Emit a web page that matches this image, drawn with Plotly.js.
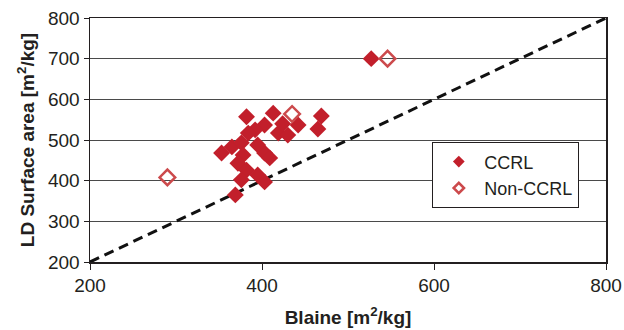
<!DOCTYPE html>
<html>
<head>
<meta charset="utf-8">
<script src="https://cdn.plot.ly/plotly-3.0.1.min.js"></script>
<style>html,body{margin:0;padding:0;background:#fff;}#chart{width:624px;height:330px;}</style>
</head>
<body>
<div id="chart"></div>
<script>
// CCRL samples
var ccrlBlaine = [382, 413, 442, 403, 392, 384, 419, 430, 365, 376, 353, 403, 409, 378, 372, 382, 376, 395, 403, 369, 395, 424, 469, 465, 527];
var ccrlLD     = [557, 566, 537, 537, 525, 517, 517, 512, 483, 493, 468, 468, 456, 463, 443, 426, 402, 414, 397, 365, 488, 540, 559, 527, 700];
// Non-CCRL samples
var nonBlaine = [290, 435, 546];
var nonLD     = [408, 564, 700];
// Line of equality
var eqX = [200, 800];
var eqY = [200, 800];
var tickVals = [200, 300, 400, 500, 600, 700, 800];
var xTickVals = [200, 400, 600, 800];

var filledColor = '#c21f2b';
var openColor = '#cc4a4c';
var fam = 'Liberation Sans, Arial, sans-serif';

var traces = [
  {x: eqX, y: eqY, mode: 'lines', line: {color: '#111', width: 3, dash: '10px,6px'}, showlegend: false, hoverinfo: 'skip'},
  {x: ccrlBlaine, y: ccrlLD, mode: 'markers', name: 'CCRL', showlegend: false,
   marker: {symbol: 'diamond', size: 13, color: filledColor, line: {width: 0}}},
  {x: nonBlaine, y: nonLD, mode: 'markers', name: 'Non-CCRL', showlegend: false,
   marker: {symbol: 'diamond-open', size: 12, color: openColor, line: {width: 2.5, color: openColor}}},
  {x: [null], y: [null], mode: 'markers', name: 'CCRL',
   marker: {symbol: 'diamond', size: 9, color: filledColor}},
  {x: [null], y: [null], mode: 'markers', name: 'Non-CCRL',
   marker: {symbol: 'diamond-open', size: 8, color: openColor, line: {width: 2.5, color: openColor}}}
];

var layout = {
  width: 624, height: 330,
  margin: {l: 90, r: 18, t: 18, b: 68},
  paper_bgcolor: '#fff', plot_bgcolor: '#fff',
  font: {family: fam, color: '#231f20', size: 19},
  xaxis: {
    range: [200, 800], tickvals: xTickVals, ticks: 'outside', ticklen: 6, tickcolor: '#231f20',
    showline: true, linecolor: '#231f20', linewidth: 1.5, mirror: true, showgrid: false, zeroline: false,
    tickfont: {size: 19, color: '#231f20'},
    title: {text: 'Blaine [m<sup>2</sup>/kg]', font: {size: 19, color: '#231f20', family: fam, weight: 'bold'}, standoff: 15}
  },
  yaxis: {
    range: [200, 800], tickvals: tickVals, ticks: 'outside', ticklen: 5, tickcolor: '#231f20',
    showline: true, linecolor: '#231f20', linewidth: 1.5, mirror: true,
    showgrid: true, gridcolor: '#4a4a4a', gridwidth: 1, zeroline: false,
    tickfont: {size: 19, color: '#231f20'},
    title: {text: 'LD Surface area [m<sup>2</sup>/kg]', font: {size: 19, color: '#231f20', family: fam, weight: 'bold'}, standoff: 8}
  },
  legend: {
    x: 0.663, y: 0.491, xanchor: 'left', yanchor: 'top',
    bgcolor: '#fff', bordercolor: '#231f20', borderwidth: 1.2,
    font: {size: 18, color: '#231f20'}, tracegroupgap: 0, itemwidth: 41
  },
  showlegend: true
};

Plotly.newPlot('chart', traces, layout, {displayModeBar: false, staticPlot: true});
</script>
</body>
</html>
